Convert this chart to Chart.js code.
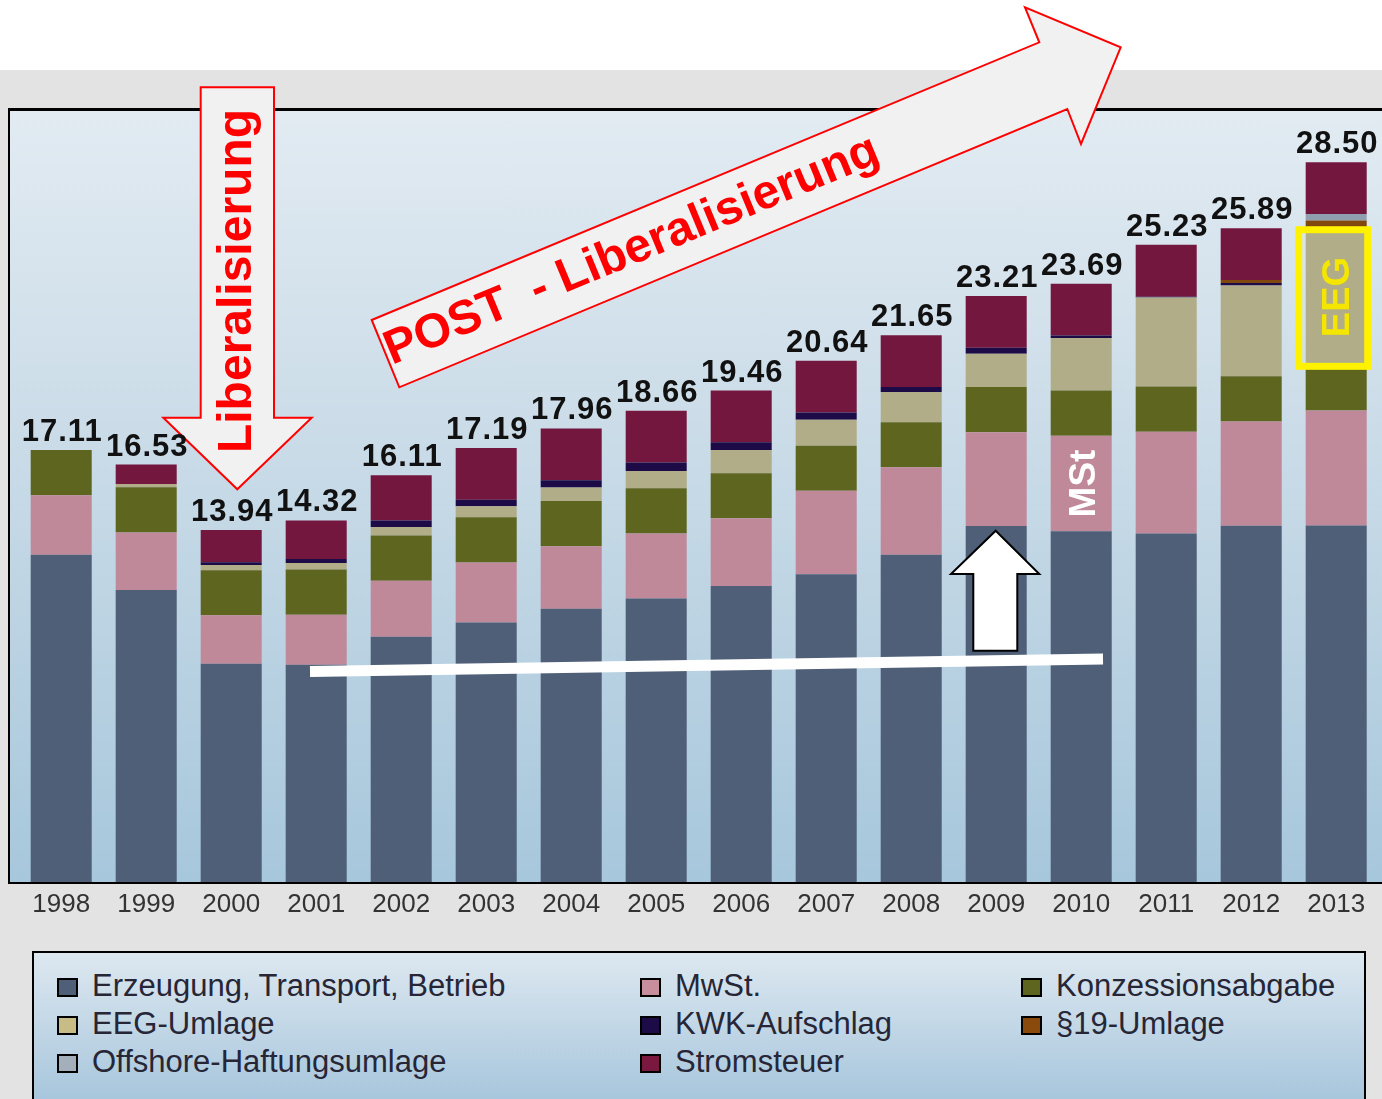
<!DOCTYPE html>
<html lang="de">
<head>
    <meta charset="UTF-8" />
    <title>Strompreis Haushalte 1998-2013</title>
    <script src="https://cdn.jsdelivr.net/npm/chart.js@4.4.0/dist/chart.umd.min.js"></script>
    <style>
        body { margin: 0; width: 1382px; height: 1099px; overflow: hidden; background: #e3e3e3; font-family: 'Liberation Sans', Arial, sans-serif; }
        .top-white { position: absolute; left: 0; top: 0; width: 1382px; height: 70px; background: #fff; }
        .frame {
            position: absolute; left: 8px; top: 108px; width: 1400px; height: 771px;
            border-top: 3px solid #000; border-left: 2px solid #000; border-bottom: 2px solid #000;
            background: linear-gradient(#e2ebf2, #c6d9e6 50%, #a7c7dc);
        }
        .legend-box {
            position: absolute; left: 32px; top: 951px; width: 1330px; height: 200px;
            border: 2px solid #000;
            background: linear-gradient(#dde8f0, #a6c5dc 75%);
        }
        .legend-item { position: absolute; font-size: 31px; color: #262636; line-height: 30px; white-space: nowrap; }
        .legend-item span { display: inline-block; width: 17px; height: 15px; border: 2px solid #000; margin-right: 14px; vertical-align: -1px; }
        #chart { position: absolute; left: 0; top: 0; }
    </style>
</head>
<body>
    <div class="top-white"></div>
    <div class="frame"></div>
    <div class="legend-box" id="legend"></div>
    <canvas id="chart" width="1382" height="1099"></canvas>

    <script>
        // Daten (ct/kWh)
        const years = ['1998', '1999', '2000', '2001', '2002', '2003', '2004', '2005', '2006', '2007', '2008', '2009', '2010', '2011', '2012', '2013'];
        const totals = [17.11, 16.53, 13.94, 14.32, 16.11, 17.19, 17.96, 18.66, 19.46, 20.64, 21.65, 23.21, 23.69, 25.23, 25.89, 28.50];
        const erzeugung = [12.96, 11.56, 8.64, 8.60, 9.71, 10.28, 10.82, 11.23, 11.72, 12.19, 12.96, 14.10, 13.89, 13.80, 14.11, 14.12];
        const mwst = [2.36, 2.28, 1.92, 1.98, 2.22, 2.37, 2.48, 2.57, 2.68, 3.30, 3.46, 3.71, 3.78, 4.03, 4.13, 4.55];
        const konzession = [1.79, 1.79, 1.79, 1.79, 1.79, 1.79, 1.79, 1.79, 1.79, 1.79, 1.79, 1.79, 1.79, 1.79, 1.79, 1.79];
        const eegUmlage = [0, 0.13, 0.20, 0.26, 0.34, 0.44, 0.53, 0.69, 0.92, 1.02, 1.19, 1.32, 2.08, 3.53, 3.59, 5.28];
        const kwk = [0, 0, 0.11, 0.16, 0.26, 0.26, 0.29, 0.33, 0.30, 0.29, 0.20, 0.24, 0.10, 0.03, 0.10, 0.13];
        const par19 = [0, 0, 0, 0, 0, 0, 0, 0, 0, 0, 0, 0, 0, 0, 0.12, 0.33];
        const offshore = [0, 0, 0, 0, 0, 0, 0, 0, 0, 0, 0, 0, 0, 0, 0, 0.25];
        const stromsteuer = [0, 0.77, 1.28, 1.53, 1.79, 2.05, 2.05, 2.05, 2.05, 2.05, 2.05, 2.05, 2.05, 2.05, 2.05, 2.05];

        const seriesNames = ['Erzeugung, Transport, Betrieb', 'MwSt.', 'Konzessionsabgabe', 'EEG-Umlage', 'KWK-Aufschlag', '§19-Umlage', 'Offshore-Haftungsumlage', 'Stromsteuer'];
        const seriesData = [erzeugung, mwst, konzession, eegUmlage, kwk, par19, offshore, stromsteuer];
        const seriesColors = ['#4f5f78', '#c0899a', '#5e651f', '#b1ad88', '#1c0b46', '#80480f', '#8f9fb0', '#74173f'];
        const legendColors = ['#4f5f78', '#c98e9e', '#5e651f', '#c7bb86', '#1c0b46', '#8a4a0c', '#a3afbb', '#7a1840'];

        // Legende (3 Spalten, zeilenweise)
        const legend = document.getElementById('legend');
        const colX = [23, 606, 987];
        const rowY = [18, 56, 94];
        seriesNames.forEach((name, i) => {
            const el = document.createElement('div');
            el.className = 'legend-item';
            el.style.left = colX[i % 3] + 'px';
            el.style.top = rowY[Math.floor(i / 3)] + 'px';
            el.innerHTML = '<span style="background:' + legendColors[i] + '"></span>' + name;
            legend.appendChild(el);
        });

        function poly(ctx, pts, fill, stroke, lw) {
            ctx.beginPath();
            ctx.moveTo(pts[0][0], pts[0][1]);
            for (let i = 1; i < pts.length; i++) ctx.lineTo(pts[i][0], pts[i][1]);
            ctx.closePath();
            ctx.fillStyle = fill;
            ctx.fill();
            ctx.lineWidth = lw;
            ctx.strokeStyle = stroke;
            ctx.lineJoin = 'miter';
            ctx.stroke();
        }

        // Anmerkungen über dem Diagramm
        const annotations = {
            id: 'annotations',
            afterDraw(chart) {
                const ctx = chart.ctx;
                const xs = chart.scales.x, ys = chart.scales.y;
                ctx.save();

                // weiße Linie
                ctx.beginPath();
                ctx.moveTo(310, 671.5);
                ctx.lineTo(1103, 659);
                ctx.lineWidth = 11;
                ctx.strokeStyle = '#fff';
                ctx.stroke();

                // weißer Pfeil nach oben
                poly(ctx, [[995.7, 530.7], [1039.3, 574], [1017.3, 574], [1017.3, 650.7], [973.3, 650.7], [973.3, 574], [951, 574]], '#fff', '#000', 2);

                // MSt im Balken 2010
                const i10 = years.indexOf('2010');
                const mLow = erzeugung[i10], mHigh = erzeugung[i10] + mwst[i10];
                ctx.save();
                ctx.translate(xs.getPixelForValue(i10) + 14, (ys.getPixelForValue(mLow) + ys.getPixelForValue(mHigh)) / 2);
                ctx.rotate(-Math.PI / 2);
                ctx.font = 'bold 37px "Liberation Sans", Arial';
                ctx.fillStyle = '#fff';
                ctx.textAlign = 'center';
                ctx.fillText('MSt', 0, 0);
                ctx.restore();

                // gelber Rahmen um EEG 2013
                const i13 = years.indexOf('2013');
                const eLow = erzeugung[i13] + mwst[i13] + konzession[i13];
                const eHigh = eLow + eegUmlage[i13] + kwk[i13];
                const cx = xs.getPixelForValue(i13);
                const yTop = ys.getPixelForValue(eHigh), yBot = ys.getPixelForValue(eLow);
                ctx.lineWidth = 7;
                ctx.strokeStyle = '#fff200';
                ctx.strokeRect(cx - 37.5, yTop + 1, 69, yBot - yTop);
                ctx.save();
                ctx.translate(cx + 13, (yTop + yBot) / 2);
                ctx.rotate(-Math.PI / 2);
                ctx.font = 'bold 38px "Liberation Sans", Arial';
                ctx.fillStyle = '#f4e600';
                ctx.textAlign = 'center';
                ctx.fillText('EEG', 0, 0);
                ctx.restore();

                // Pfeil "Liberalisierung"
                poly(ctx, [[200.7, 87.3], [274, 87.3], [274, 417.7], [311.7, 417.7], [237.3, 489.3], [163.3, 417.7], [200.7, 417.7]], '#f1f1f1', '#ff0000', 2);
                ctx.save();
                ctx.translate(251, 281);
                ctx.rotate(-Math.PI / 2);
                ctx.font = 'bold 48px "Liberation Sans", Arial';
                ctx.fillStyle = '#ff0000';
                ctx.textAlign = 'center';
                ctx.fillText('Liberalisierung', 0, 0);
                ctx.restore();

                // Pfeil "POST - Liberalisierung"
                poly(ctx, [[371.7, 320], [1039.3, 42.3], [1025, 7.3], [1120.7, 47.3], [1081, 144], [1067.3, 109], [399.3, 387.3]], '#f1f1f1', '#ff0000', 2);
                ctx.save();
                ctx.translate(392, 365);
                ctx.rotate(Math.atan2(-277.7, 667.6));
                ctx.font = 'bold 48px "Liberation Sans", Arial';
                ctx.fillStyle = '#ff0000';
                ctx.textAlign = 'left';
                ctx.fillText('POST  - Liberalisierung', 0, 0);
                ctx.restore();

                // Summenwerte
                ctx.font = 'bold 31px "Liberation Sans", Arial';
                ctx.letterSpacing = '1px';
                ctx.fillStyle = '#111';
                ctx.textAlign = 'center';
                ctx.textBaseline = 'alphabetic';
                totals.forEach((t, i) => {
                    ctx.fillText(t.toFixed(2), xs.getPixelForValue(i) + 1, ys.getPixelForValue(t) - 9);
                });
                ctx.restore();
            }
        };

        new Chart(document.getElementById('chart'), {
            type: 'bar',
            data: {
                labels: years,
                datasets: seriesNames.map((name, i) => ({
                    label: name,
                    data: seriesData[i],
                    backgroundColor: seriesColors[i],
                    borderWidth: 0,
                    categoryPercentage: 1,
                    barPercentage: 0.718
                }))
            },
            options: {
                responsive: false,
                animation: false,
                layout: { padding: { left: 18.7, right: 3.3, top: 108, bottom: 0 } },
                plugins: { legend: { display: false }, tooltip: { enabled: false } },
                scales: {
                    x: {
                        stacked: true,
                        grid: { display: false, drawTicks: false },
                        border: { display: false },
                        ticks: { color: '#333', font: { family: "'Liberation Sans', Arial", size: 26 }, padding: 7 },
                        afterFit: s => { s.height = 217; }
                    },
                    y: {
                        stacked: true,
                        display: false,
                        min: 0,
                        max: 30.65
                    }
                }
            },
            plugins: [annotations]
        });
    </script>
</body>
</html>
